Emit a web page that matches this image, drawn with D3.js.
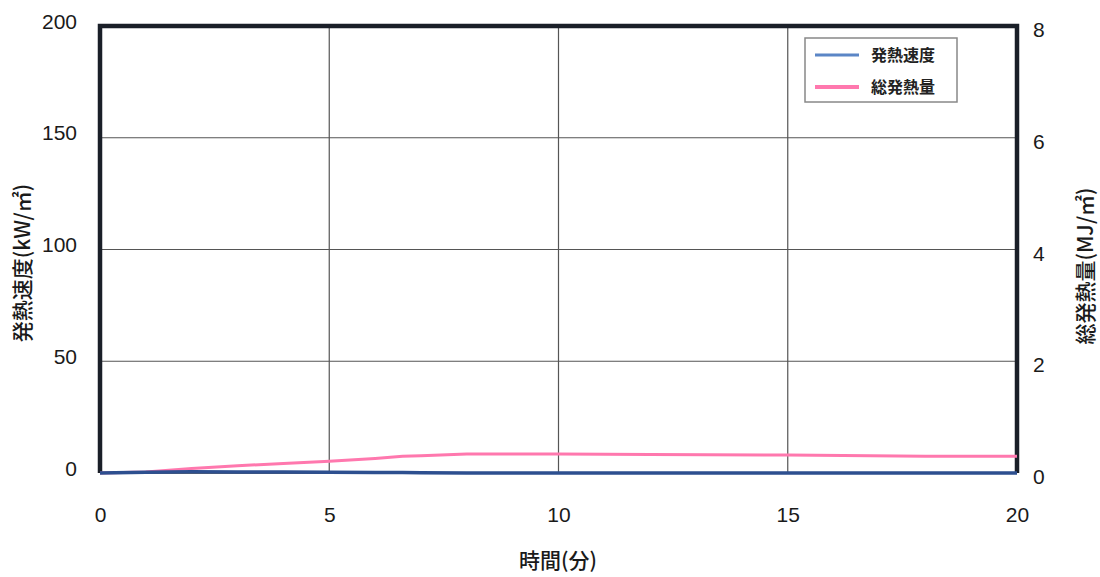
<!DOCTYPE html>
<html><head><meta charset="utf-8">
<script src="https://cdn.jsdelivr.net/npm/d3@7"></script>
<style>body{margin:0;background:#fff}svg{display:block}</style>
</head><body><svg id="c" width="1100" height="577"></svg>
<script>
const timeMin = [0, 1, 2, 3, 4, 5, 6, 6.6, 7, 8, 9, 10, 12, 15, 18, 20];
const hrrValues = [0, 0.3, 0.6, 0.5, 0.4, 0.3, 0.2, 0.2, 0.1, 0, 0, 0, 0, 0, 0, 0];
const thrValues = [0, 0.02, 0.08, 0.13, 0.17, 0.21, 0.26, 0.3, 0.31, 0.34, 0.34, 0.34, 0.33, 0.32, 0.3, 0.3];
const xTicks = [0, 5, 10, 15, 20];
const yLeftTicks = [0, 50, 100, 150, 200];
const yRightTicks = [0, 2, 4, 6, 8];
const legendLabels = ["発熱速度", "総発熱量"];

const L = 100, R = 1017, T = 26, B = 473;
const svg = d3.select("#c");
const x = d3.scaleLinear().domain([0, 20]).range([L, R]);
const yL = d3.scaleLinear().domain([0, 200]).range([B, T]);
const yR = d3.scaleLinear().domain([0, 8]).range([B, T]);

// grid
svg.append("g").selectAll("line").data(xTicks.slice(1, -1)).join("line")
  .attr("x1", d => x(d)).attr("x2", d => x(d)).attr("y1", T).attr("y2", B)
  .attr("stroke", "#555").attr("stroke-width", 1.2);
svg.append("g").selectAll("line").data(yLeftTicks.slice(1, -1)).join("line")
  .attr("x1", L).attr("x2", R).attr("y1", d => yL(d)).attr("y2", d => yL(d))
  .attr("stroke", "#555").attr("stroke-width", 1.2);

// frame
svg.append("path").attr("d", `M${L},${B}V${T}H${R}V${B}`)
  .attr("fill", "none").attr("stroke", "#1a1f28").attr("stroke-width", 4.5);
svg.append("line").attr("x1", L).attr("x2", R).attr("y1", B).attr("y2", B)
  .attr("stroke", "#333").attr("stroke-width", 1.5);

// axes
const fnt = "'Liberation Sans', Arial, sans-serif";
const ax = svg.append("g").attr("transform", `translate(0,${B})`)
  .call(d3.axisBottom(x).tickValues(xTicks).tickSize(0).tickPadding(34));
const ayl = svg.append("g").attr("transform", `translate(${L},0)`)
  .call(d3.axisLeft(yL).tickValues(yLeftTicks).tickSize(0).tickPadding(23));
const ayr = svg.append("g").attr("transform", `translate(${R},0)`)
  .call(d3.axisRight(yR).tickValues(yRightTicks).tickSize(0).tickPadding(16));
[ax, ayl, ayr].forEach(g => {
  g.select(".domain").remove();
  g.selectAll("text").attr("font-family", fnt).attr("font-size", 21).attr("fill", "#1a1a1a");
});
ayl.selectAll("text").attr("dy", "0.1em");
ayr.selectAll("text").attr("dy", "0.5em");

// lines
const lineL = d3.line().x((d, i) => x(timeMin[i])).y(d => yL(d));
const lineR = d3.line().x((d, i) => x(timeMin[i])).y(d => yR(d));
svg.append("path").datum(thrValues).attr("d", lineR)
  .attr("fill", "none").attr("stroke", "#ff78ae").attr("stroke-width", 3);
svg.append("path").datum(hrrValues).attr("d", lineL)
  .attr("fill", "none").attr("stroke", "#2d4f8f").attr("stroke-width", 3.5);

// titles
const jf = "'Noto Sans CJK JP', sans-serif";
svg.append("text").attr("x", 558).attr("y", 568).attr("text-anchor", "middle")
  .attr("font-family", jf).attr("font-weight", 500).attr("font-size", 21).attr("fill", "#1a1a1a").text("時間(分)");
svg.append("text").attr("transform", "translate(30,263) rotate(-90)").attr("text-anchor", "middle")
  .attr("font-family", jf).attr("font-weight", 500).attr("font-size", 21).attr("fill", "#1a1a1a").text("発熱速度(kW/㎡)");
svg.append("text").attr("transform", "translate(1093,266) rotate(-90)").attr("text-anchor", "middle")
  .attr("font-family", jf).attr("font-weight", 500).attr("font-size", 21).attr("fill", "#1a1a1a").text("総発熱量(MJ/㎡)");

// legend
const lg = svg.append("g");
lg.append("rect").attr("x", 805).attr("y", 38).attr("width", 152).attr("height", 64)
  .attr("fill", "#fff").attr("stroke", "#888").attr("stroke-width", 1.5);
const lc = ["#5b86c6", "#ff78ae"];
legendLabels.forEach((t, i) => {
  const yy = 55 + i * 32;
  lg.append("line").attr("x1", 815).attr("x2", 859).attr("y1", yy).attr("y2", yy)
    .attr("stroke", lc[i]).attr("stroke-width", i ? 4 : 3);
  lg.append("text").attr("x", 871).attr("y", yy + 6).attr("font-family", jf)
    .attr("font-weight", "bold").attr("font-size", 16).attr("fill", "#222").text(t);
});
</script></body></html>
